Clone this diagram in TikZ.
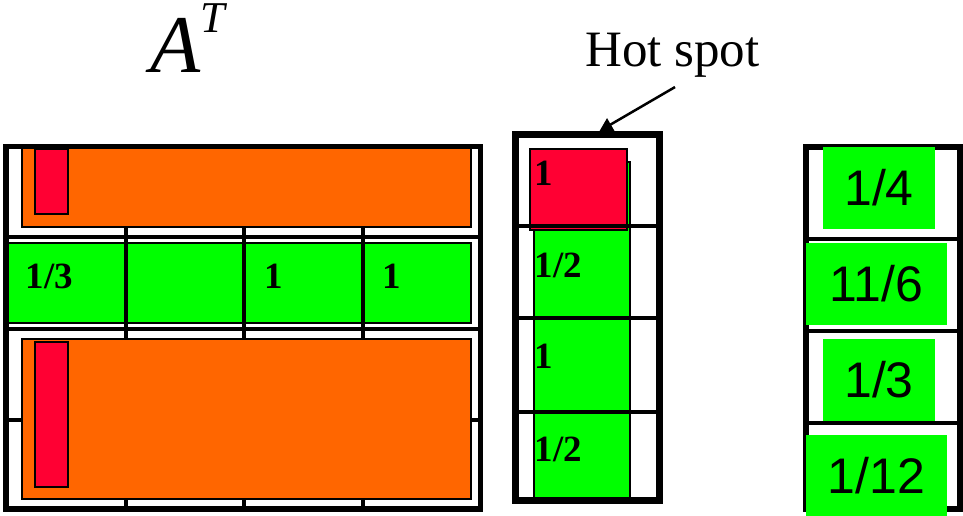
\documentclass[tikz,border=0pt]{standalone}
\usepackage{fontspec}
\setmainfont{Liberation Serif}
\newfontfamily\arialfont{Liberation Sans}
\usetikzlibrary{arrows.meta}
\definecolor{hotred}{HTML}{FF0033}
\definecolor{rowgreen}{HTML}{00FF00}
\definecolor{colorange}{HTML}{FF6600}

\begin{document}
\begin{tikzpicture}[x=1pt,y=-1pt,
  matframe/.style={draw=black,line width=5.5pt},
  gridline/.style={draw=black,line width=3.3pt},
  cellbar/.style={draw=black,line width=1.7pt},
  val/.style={inner sep=0pt,anchor=base west,font=\fontsize{37}{40}\selectfont\bfseries},
  sumbox/.style={fill=rowgreen,inner sep=0pt,font=\arialfont\fontsize{50}{56}\selectfont},
  ptr/.style={line width=2.5pt,-{Triangle[length=13pt,width=14pt]}}
  ]
\useasboundingbox (0,0) rectangle (963,516);

% A^T as a 4x4 block
\draw[cellbar,fill=rowgreen] (8,243) rectangle (471,323);
\foreach \x in {126,244,363} \draw[gridline] (\x,147) -- (\x,509);
\foreach \y in {237,329,420} \draw[gridline] (6,\y) -- (481,\y);
\draw[cellbar,fill=colorange] (22,148) rectangle (471,227);
\draw[cellbar,fill=hotred] (35,149) rectangle (68,214);
\draw[cellbar,fill=colorange] (22,339) rectangle (471,499);
\draw[cellbar,fill=hotred] (35,342) rectangle (68,487);
\draw[matframe] (6,146.7) rectangle (480.5,509);
\node[val] (r1) at (25.5,288) {1/3};
\node[val] (r3) at (264.5,288) {1};
\node[val] (r4) at (382.5,288) {1};
\node[inner sep=0pt,anchor=base west,font=\fontsize{82}{86}\selectfont\itshape] (at) at (150,73)
  {A\raisebox{40pt}{\fontsize{44}{46}\selectfont T}};

% vector with the hot spot
\draw[cellbar,fill=rowgreen] (534,162) rectangle (630,498);
\draw[cellbar,fill=hotred] (530,149) rectangle (627,230);
\foreach \y in {226,318,412} \draw[gridline,line width=3.5pt] (515.5,\y) -- (659.5,\y);
\node[draw=black,line width=7pt,minimum width=144pt,minimum height=366pt,inner sep=0pt] (hvec) at (587.5,317.5) {};
\node[val] (h1) at (534.5,185) {1};
\node[val] (h2) at (534.5,277) {1/2};
\node[val] (h3) at (534.5,368) {1};
\node[val] (h4) at (534.5,461) {1/2};

\node[anchor=base,inner sep=0pt,font=\fontsize{51}{54}\selectfont] (hot) at (672.5,67) {Hot spot};
\draw[ptr] ([xshift=2.5pt,yshift=-9pt]hot.south) -- ([xshift=12pt]hvec.north);

% result vector
\node[draw=black,line width=6pt,minimum width=153.5pt,minimum height=362pt,inner sep=0pt] (svec) at (882.75,328) {};
\foreach \y in {239,331,423} \draw[gridline,line width=3.5pt] (806,\y) -- (959.5,\y);
\node[sumbox,minimum width=112pt,minimum height=82pt] (s1) at (879,188) {1/4};
\node[sumbox,minimum width=141pt,minimum height=82pt] (s2) at (876.5,284) {11/6};
\node[sumbox,minimum width=112pt,minimum height=82pt] (s3) at (879,380) {1/3};
\node[sumbox,minimum width=141pt,minimum height=82pt] (s4) at (876.5,476) {1/12};
\end{tikzpicture}
\end{document}
